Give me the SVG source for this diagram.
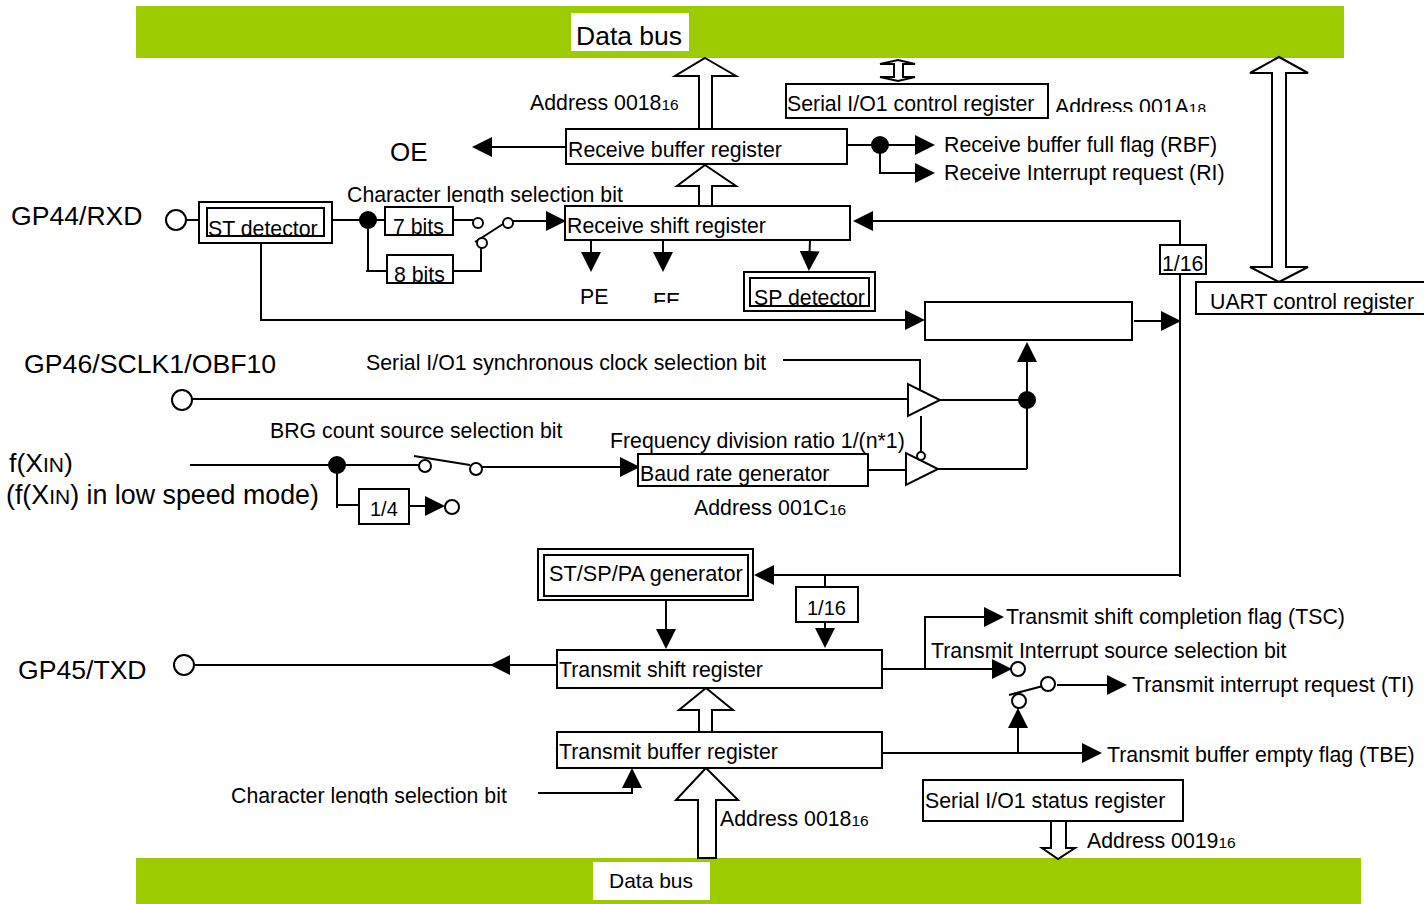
<svg xmlns="http://www.w3.org/2000/svg" width="1424" height="904" viewBox="0 0 1424 904">
<style>
text{font-family:"Liberation Sans",Arial,sans-serif;font-size:21.3px;fill:#000}
.big{font-size:26.6px}
.sub{font-size:15.5px}
.box,.blk{fill:#fff;stroke:#000;stroke-width:2}
.box2{fill:none;stroke:#000;stroke-width:2}
.bus{fill:#9ccc00}
.lab{fill:#fff}
.ln{fill:none;stroke:#000;stroke-width:2}
.arr{marker-end:url(#h)}
.dot{fill:#000}
.o{fill:#fff;stroke:#000;stroke-width:2}
</style>
<defs>
<marker id="h" markerUnits="userSpaceOnUse" markerWidth="20" markerHeight="20" refX="16" refY="10" orient="auto"><path d="M0 0L20 10L0 20z" fill="#000"/></marker>
<clipPath id="c1"><rect x="340" y="180" width="300" height="23"/></clipPath>
<clipPath id="c2"><rect x="1050" y="90" width="170" height="22"/></clipPath>
<clipPath id="c3"><rect x="640" y="285" width="50" height="18"/></clipPath>
<clipPath id="c4"><rect x="925" y="635" width="370" height="24"/></clipPath>
<clipPath id="c5"><rect x="225" y="780" width="290" height="24"/></clipPath>
<clipPath id="c6"><rect x="605" y="425" width="310" height="28"/></clipPath>
</defs>

<g id="data-bus-top"><rect class="bus" x="136" y="6" width="1208" height="52"/><rect class="lab" x="571" y="13" width="118" height="38"/><text x="576" y="45" style="font-size:26.5px">Data bus</text></g>
<g id="data-bus-bottom"><rect class="bus" x="136" y="858" width="1225" height="46"/><rect class="lab" x="593" y="862" width="117" height="38"/><text x="609" y="888" style="font-size:21px">Data bus</text></g>

<g id="connectors">
<path class="ln arr" d="M566 147H476"/>
<path class="ln arr" d="M847 145H931"/>
<path class="ln arr" d="M880 145V173H931"/>
<path class="ln" d="M187 220H199"/>
<path class="ln" d="M332 220H385"/>
<path class="ln" d="M368 220V271H387"/>
<path class="ln" d="M366 271H370"/>
<path class="ln" d="M453 220H473"/>
<path class="ln" d="M453 271H481V248"/>
<path class="ln" d="M475 242L503 224"/>
<path class="ln arr" d="M513 221H562"/>
<path class="ln arr" d="M591 240V268"/>
<path class="ln arr" d="M663 240V268"/>
<path class="ln arr" d="M810 240L809 267"/>
<path class="ln arr" d="M1180 245V221H857"/>
<path class="ln" d="M1180 274V577"/>
<path class="ln arr" d="M261 243V320H921"/>
<path class="ln arr" d="M1134 321H1177"/>
<path class="ln" d="M192 399H908"/>
<path class="ln" d="M940 400H1027"/>
<path class="ln arr" d="M1027 469V346"/>
<path class="ln" d="M938 469H1027"/>
<path class="ln" d="M783 360H920V392"/>
<path class="ln" d="M921 416V451"/>
<path class="ln" d="M190 465H419"/>
<path class="ln" d="M414 456L470 465"/>
<path class="ln arr" d="M482 467H636"/>
<path class="ln" d="M868 470H906"/>
<path class="ln" d="M337 465V508"/>
<path class="ln" d="M337 505H359"/>
<path class="ln arr" d="M409 506H441"/>
<path class="ln arr" d="M1179 575H758"/>
<path class="ln" d="M825 575V587"/>
<path class="ln arr" d="M825 622V644"/>
<path class="ln arr" d="M666 600V645"/>
<path class="ln arr" d="M557 665H494"/>
<path class="ln" d="M194 665H500"/>
<path class="ln arr" d="M882 669H1008"/>
<path class="ln arr" d="M925 669V617H1000"/>
<path class="ln" d="M1009 695L1043 686"/>
<path class="ln arr" d="M1057 685H1123"/>
<path class="ln arr" d="M882 753H1098"/>
<path class="ln arr" d="M1018 753V712"/>
<path class="ln arr" d="M538 793H632V772"/>
</g>

<g id="block-arrows">
<path class="blk" d="M705 58L736 76H712V129H699V76H675Z"/>
<path class="blk" d="M705 165L736 186H712V206H699V186H677Z"/>
<path class="blk" d="M898 60L915 64H903V77H915L898 81L880 77H894V64H880Z"/>
<path class="blk" d="M1279 57L1308 73H1286V267H1308L1279 282L1250 267H1272V73H1250Z"/>
<path class="blk" d="M706 688L733 710H712V732H699V710H679Z"/>
<path class="blk" d="M706 768L738 800H716V858H698V800H676Z"/>
<path class="blk" d="M1051 821V848H1042L1058 859L1075 848H1066V821"/>
</g>

<g id="receive-buffer-register"><rect class="box" x="566" y="129" width="281" height="35"/><text x="568" y="157">Receive buffer register</text></g>
<g id="receive-shift-register"><rect class="box" x="565" y="206" width="285" height="34"/><text x="567" y="233">Receive shift register</text></g>
<g id="serial-control-register"><rect class="box" x="786" y="84" width="262" height="34"/><text x="787" y="111">Serial I/O1 control register</text></g>
<g id="uart-control-register"><rect class="box" x="1196" y="282" width="240" height="32"/><text x="1210" y="309">UART control register</text></g>
<g id="st-detector"><rect class="box" x="199" y="202" width="133" height="41"/><rect class="box2" x="207" y="208" width="117" height="28"/><text x="208" y="236">ST detector</text></g>
<g id="bits-7"><rect class="box" x="385" y="207" width="68" height="28"/><text x="393" y="234">7 bits</text></g>
<g id="bits-8"><rect class="box" x="387" y="255" width="66" height="28"/><text x="394" y="282">8 bits</text></g>
<g id="sp-detector"><rect class="box" x="744" y="272" width="131" height="39"/><rect class="box2" x="750" y="278" width="119" height="28"/><text x="754" y="305">SP detector</text></g>
<g id="div-16-a"><rect class="box" x="1160" y="245" width="46" height="29"/><text x="1162" y="271">1/16</text></g>
<g id="blank-block"><rect class="box" x="925" y="302" width="207" height="38"/></g>
<g id="baud-rate-generator"><rect class="box" x="638" y="454" width="230" height="32"/><text x="640" y="481">Baud rate generator</text></g>
<g id="div-4"><rect class="box" x="359" y="489" width="50" height="35"/><text x="370" y="516" style="font-size:20px">1/4</text></g>
<g id="st-sp-pa-generator"><rect class="box" x="538" y="549" width="215" height="51"/><rect class="box2" x="544" y="555" width="204" height="41"/><text x="549" y="581" style="font-size:21.7px">ST/SP/PA generator</text></g>
<g id="div-16-b"><rect class="box" x="796" y="587" width="62" height="35"/><text x="807" y="615" style="font-size:20px">1/16</text></g>
<g id="transmit-shift-register"><rect class="box" x="557" y="650" width="325" height="38"/><text x="559" y="677">Transmit shift register</text></g>
<g id="transmit-buffer-register"><rect class="box" x="557" y="732" width="325" height="36"/><text x="559" y="759">Transmit buffer register</text></g>
<g id="serial-status-register"><rect class="box" x="923" y="780" width="260" height="41"/><text x="925" y="808">Serial I/O1 status register</text></g>

<g id="buffer-a"><path class="box" d="M908 384V416L940 400Z"/></g>
<g id="buffer-b"><path class="box" d="M906 453V485L938 469Z"/><circle class="o" cx="921" cy="456" r="4"/></g>

<g id="junctions">
<circle class="dot" cx="880" cy="145" r="9"/><circle class="dot" cx="368" cy="220" r="9"/><circle class="dot" cx="1027" cy="400" r="9"/><circle class="dot" cx="337" cy="465" r="9"/>
</g>
<g id="terminals">
<circle class="o" cx="176" cy="220" r="10"/><circle class="o" cx="182" cy="400" r="10"/><circle class="o" cx="184" cy="665" r="10"/>
<circle class="o" cx="478" cy="223" r="5"/><circle class="o" cx="482" cy="243" r="5"/><circle class="o" cx="508" cy="223" r="5"/>
<circle class="o" cx="425" cy="466" r="6"/><circle class="o" cx="476" cy="469" r="6"/><circle class="o" cx="452" cy="507" r="7"/>
<circle class="o" cx="1018" cy="669" r="7"/><circle class="o" cx="1048" cy="684" r="7"/><circle class="o" cx="1019" cy="701" r="7"/>
</g>

<g id="labels">
<text x="530" y="110">Address 0018<tspan class="sub">16</tspan></text>
<g clip-path="url(#c2)"><text x="1055" y="114">Address 001A<tspan class="sub">18</tspan></text></g>
<text x="390" y="161" style="font-size:26px">OE</text>
<text x="944" y="152">Receive buffer full flag (RBF)</text>
<text x="944" y="180">Receive Interrupt request (RI)</text>
<text x="11" y="225" class="big">GP44/RXD</text>
<g clip-path="url(#c1)"><text x="347" y="202">Character length selection bit</text></g>
<text x="580" y="304">PE</text>
<g clip-path="url(#c3)"><text x="653" y="308">FE</text></g>
<text x="24" y="373" style="font-size:26.7px">GP46/SCLK1/OBF10</text>
<text x="366" y="370">Serial I/O1 synchronous clock selection bit</text>
<text x="270" y="438">BRG count source selection bit</text>
<g clip-path="url(#c6)"><text x="610" y="448">Frequency division ratio 1/(n*1)</text></g>
<text x="9" y="472" class="big">f(X<tspan style="font-size:21px">IN</tspan>)</text>
<text x="6" y="504" style="font-size:26.8px">(f(X<tspan style="font-size:21px">IN</tspan>) in low speed mode)</text>
<text x="694" y="515">Address 001C<tspan class="sub">16</tspan></text>
<text x="18" y="679" class="big">GP45/TXD</text>
<text x="1006" y="624">Transmit shift completion flag (TSC)</text>
<g clip-path="url(#c4)"><text x="931" y="658">Transmit Interrupt source selection bit</text></g>
<text x="1132" y="692">Transmit interrupt request (TI)</text>
<text x="1107" y="762">Transmit buffer empty flag (TBE)</text>
<g clip-path="url(#c5)"><text x="231" y="803">Character length selection bit</text></g>
<text x="720" y="826">Address 0018<tspan class="sub">16</tspan></text>
<text x="1087" y="848">Address 0019<tspan class="sub">16</tspan></text>
</g>
</svg>
